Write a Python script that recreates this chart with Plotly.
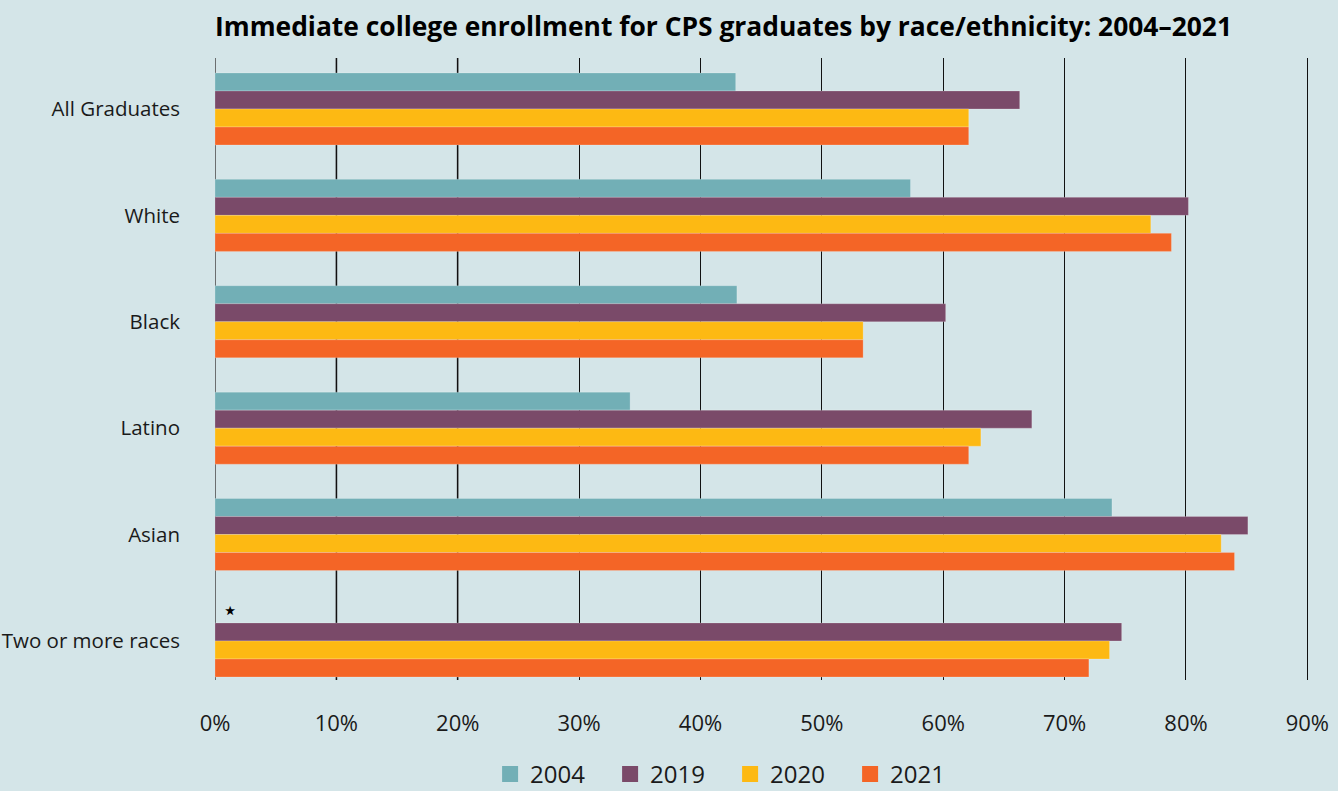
import plotly.graph_objects as go

# categories and series
groups = ["All Graduates", "White", "Black", "Latino", "Asian", "Two or more races"]
years = ["2004", "2019", "2020", "2021"]
pct_2004 = [42.9, 57.3, 43.0, 34.2, 73.9, None]
pct_2019 = [66.3, 80.2, 60.2, 67.3, 85.1, 74.7]
pct_2020 = [62.1, 77.1, 53.4, 63.1, 82.9, 73.7]
pct_2021 = [62.1, 78.8, 53.4, 62.1, 84.0, 72.0]
tick_vals = [0, 10, 20, 30, 40, 50, 60, 70, 80, 90]
tick_text = [f"{v}%" for v in tick_vals]

colors = {"2004": "#72afb6", "2019": "#7a4a69", "2020": "#fdb913", "2021": "#f46526"}
bg = "#d4e5e8"
ink = "#1a1a1a"

fig = go.Figure()
for year, vals in zip(years, [pct_2004, pct_2019, pct_2020, pct_2021]):
    fig.add_trace(
        go.Bar(
            name=year,
            y=groups,
            x=vals,
            orientation="h",
            marker=dict(color=colors[year], line=dict(width=0.6, color="rgba(255,255,255,0.35)")),
            hovertemplate="%{y}: %{x}%<extra>" + year + "</extra>",
            showlegend=False,
            legendgroup=year,
        )
    )

# legend entries with bigger square swatches than the bar default
for year in years:
    fig.add_trace(
        go.Scatter(
            name=year,
            x=[None],
            y=[None],
            mode="markers",
            marker=dict(symbol="square", size=22, color=colors[year]),
            legendgroup=year,
            hoverinfo="skip",
        )
    )

# first few gridlines are a lighter grey in the original
shapes = []
for v in tick_vals[:3]:
    shapes.append(
        dict(
            type="line", xref="x", yref="paper", x0=v, x1=v, y0=0, y1=1,
            line=dict(color="#6b6e6f", width=2), layer="below",
        )
    )

fig.update_layout(
    width=1338,
    height=791,
    paper_bgcolor=bg,
    plot_bgcolor=bg,
    barmode="group",
    bargap=0.323,
    bargroupgap=0,
    margin=dict(l=215, r=27, t=58, b=111, autoexpand=False),
    font=dict(family="Open Sans", color=ink),
    title=dict(
        text="<b>Immediate college enrollment for CPS graduates by race/ethnicity: 2004–2021</b>",
        x=0, xref="paper", xanchor="left",
        y=0.966, yref="container", yanchor="middle",
        font=dict(family="Open Sans", size=26.4, color="#000000"),
    ),
    xaxis=dict(
        range=[0, 90.3],
        tickvals=tick_vals,
        ticktext=tick_text,
        showgrid=True,
        gridcolor="#111111",
        gridwidth=1,
        zeroline=False,
        ticks="",
        ticklabelstandoff=28,
        tickfont=dict(size=22, color=ink),
        fixedrange=True,
        automargin=False,
    ),
    yaxis=dict(
        range=[5.367, -0.479],
        showgrid=False,
        ticks="",
        ticklabelstandoff=34,
        tickfont=dict(size=20.5, color=ink),
        fixedrange=True,
        automargin=False,
    ),
    legend=dict(
        orientation="h",
        x=0.251, xanchor="left",
        y=0.021, yref="container", yanchor="middle",
        font=dict(size=24, color=ink),
        entrywidth=75,
        itemsizing="trace",
        traceorder="normal",
        bgcolor="rgba(0,0,0,0)",
    ),
    shapes=shapes,
    annotations=[
        dict(
            text="⋆", x=1.2, y=groups[-1], xref="x", yref="y",
            yshift=32, showarrow=False, font=dict(size=26, color="#000000"),
        )
    ],
)

fig.write_html(
    "out.html",
    config={"displayModeBar": False},
    post_script="document.body.style.margin='0';document.body.style.background='#d4e5e8';",
)
